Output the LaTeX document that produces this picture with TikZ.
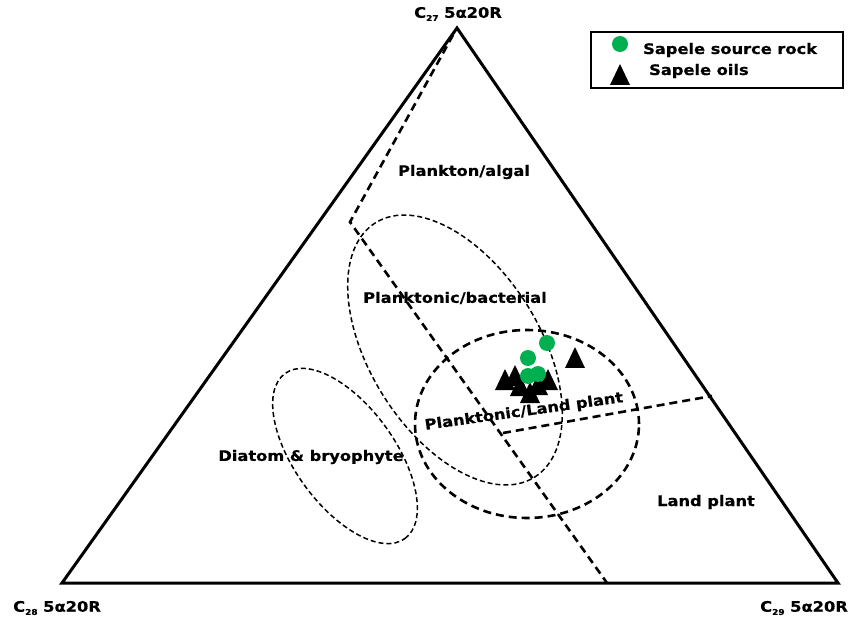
\documentclass[tikz,border=0pt]{standalone}
\usepackage{fontspec}
\setmainfont{DejaVu Sans}[FakeStretch=1.12, BoldFeatures={FakeStretch=1.12,FakeBold=0.6}]
\definecolor{srcgreen}{RGB}{0,176,80}
\newcommand\sbs[1]{\raisebox{-0.4ex}{\fontsize{8}{8}\selectfont #1}}
\newcommand\oilmark[2]{\fill[black] (#1,#2) ++(0,11) -- ++(-10,-21) -- ++(20,0) -- cycle;}
\newcommand\rockmark[2]{\fill[srcgreen] (#1,#2) circle (8);}
\begin{document}
\begin{tikzpicture}[x=1pt,y=1pt,
  lbl/.style={font=\bfseries\fontsize{14.5}{16}\selectfont, inner sep=0pt},
  side/.style={line width=3pt, line join=miter},
  thickdash/.style={line width=2.6pt, dash pattern=on 8pt off 5pt},
  thindash/.style={line width=1.5pt, dash pattern=on 5pt off 3pt}]
\useasboundingbox (0,0) rectangle (855,625);
% triangle
\coordinate (A) at (457,597);
\coordinate (B) at (62,42);
\coordinate (C) at (838,42);
\draw[side] (A) -- (B) -- (C) -- cycle;
% dashed field boundaries
\coordinate (D1) at (453,590);
\coordinate (P) at (350,403);
\coordinate (Q) at (607,42);
\coordinate (R) at (503,192);
\coordinate (S) at (712,229);
\draw[thickdash] (D1) -- (P) -- (Q);
\draw[thickdash] (R) -- (S);
% ellipses
\draw[thindash, rotate around={-58:(455,275)}] (455,275) ellipse (150 and 85);
\draw[thindash, rotate around={-54:(345,169)}] (345,169) ellipse (102 and 50);
\draw[thickdash] (527,201) ellipse (112 and 94);
% data points
\oilmark{575}{267}
\oilmark{505}{245}
\oilmark{515}{249}
\oilmark{520}{239}
\oilmark{530}{232}
\oilmark{538}{240}
\oilmark{548}{245}
\rockmark{547}{282}
\rockmark{528}{267}
\rockmark{528}{249}
\rockmark{538}{251}
% labels
\node[lbl] (c27) at (458,611) {C\sbs{27} 5α20R};
\node[lbl] (c28) at (57,17) {C\sbs{28} 5α20R};
\node[lbl] (c29) at (804,17) {C\sbs{29} 5α20R};
\node[lbl] (alg) at (464,453) {Plankton/algal};
\node[lbl] (bac) at (455,327) {Planktonic/bacterial};
\node[lbl, rotate=8] (lpl) at (524,213) {Planktonic/Land plant};
\node[lbl] (dia) at (311,168) {Diatom \& bryophyte};
\node[lbl] (land) at (706,123) {Land plant};
% legend
\draw[line width=2.2pt] (591,593) rectangle (843,537);
\rockmark{620}{581}
\oilmark{620}{550}
\node[lbl, anchor=west] (leg1) at (643,575) {Sapele source rock};
\node[lbl, anchor=west] (leg2) at (649,554) {Sapele oils};
\end{tikzpicture}
\end{document}
